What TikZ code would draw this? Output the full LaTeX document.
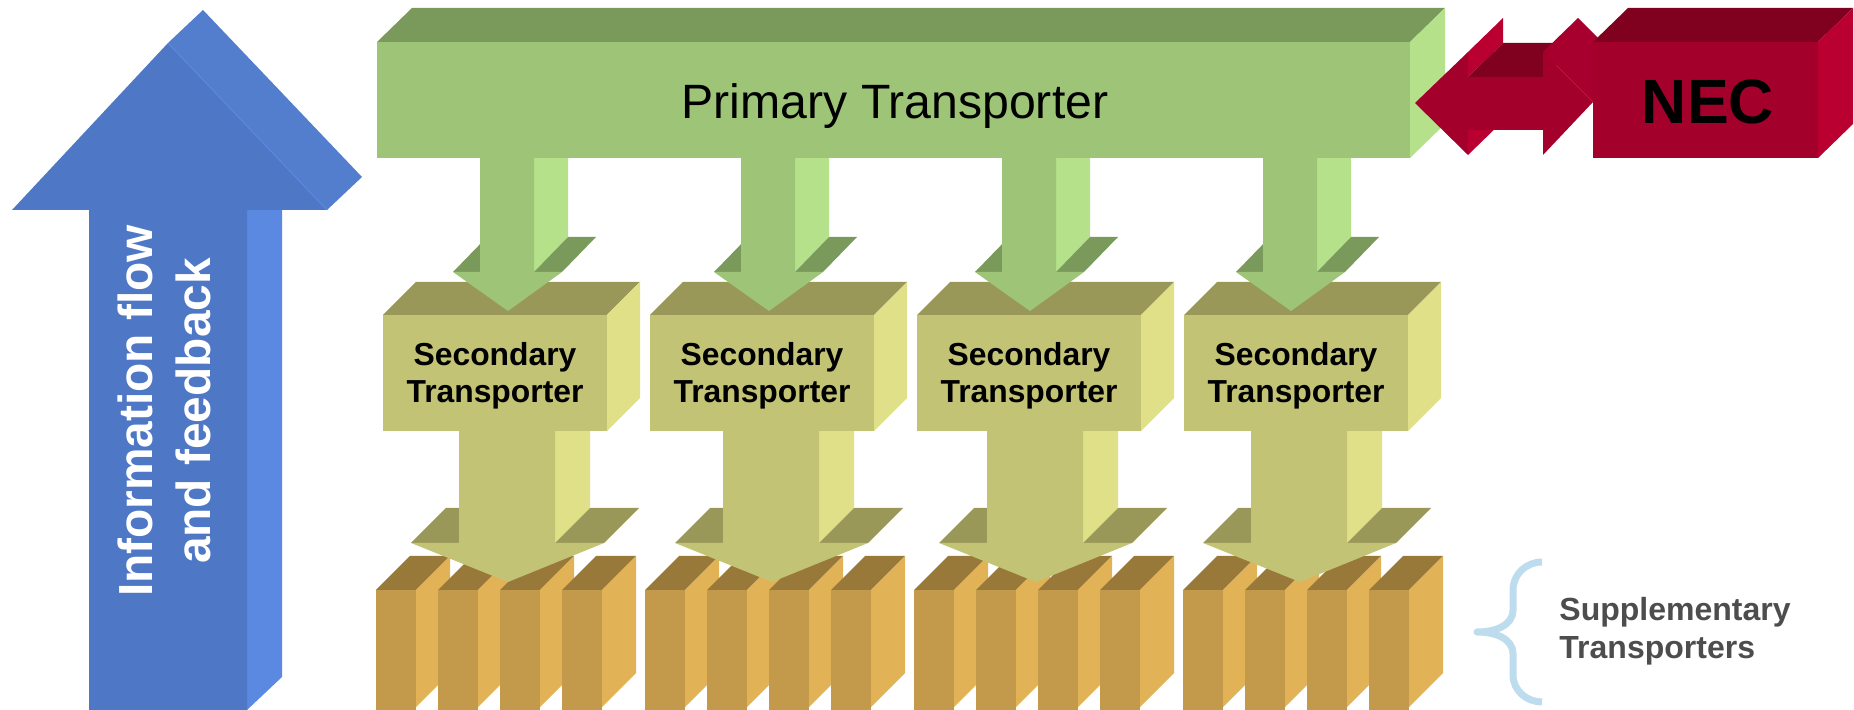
\documentclass[tikz,border=0pt]{standalone}
\usepackage{fontspec}
\setmainfont{Liberation Sans}
\definecolor{blueFront}{HTML}{4E78C5}
\definecolor{blueSlant}{HTML}{537DCD}
\definecolor{blueSide}{HTML}{5B89E1}
\definecolor{greenFront}{HTML}{9DC477}
\definecolor{greenSide}{HTML}{B4E18A}
\definecolor{greenTop}{HTML}{7A9A5C}
\definecolor{oliveFront}{HTML}{C3C375}
\definecolor{oliveSide}{HTML}{E0E088}
\definecolor{oliveTop}{HTML}{9A9858}
\definecolor{goldFront}{HTML}{C39A4B}
\definecolor{goldSide}{HTML}{E1B256}
\definecolor{goldTop}{HTML}{98793A}
\definecolor{redFront}{HTML}{A3002B}
\definecolor{redSlant}{HTML}{A8002E}
\definecolor{redSide}{HTML}{B90030}
\definecolor{redTop}{HTML}{80001F}
\definecolor{braceBlue}{HTML}{BDDDEF}
\definecolor{labelGray}{HTML}{4D4D4D}
\tikzset{
  sectext/.style={align=center, font=\fontsize{9.05}{10.5}\selectfont\bfseries},
  suptext/.style={align=left, anchor=west, text=labelGray, font=\fontsize{9.1}{10.8}\selectfont\bfseries},
  bracestroke/.style={draw=braceBlue, line width=0.07cm, line join=round}
}

\begin{document}
\begin{tikzpicture}[x=0.01cm,y=-0.01cm]
\useasboundingbox (0,0) rectangle (1854,710);

% Supplementary transporters (thin boxes)
\foreach \g in {0,...,3}{
  \foreach \k in {0,...,3}{
    \pgfmathsetmacro{\xl}{376+269*\g+62*\k}
    \pgfmathsetmacro{\xr}{\xl+40}
    \fill[goldTop] (\xl,590) -- ++(34,-34) -- ++(40,0) -- (\xr,590) -- cycle;
    \fill[goldSide] (\xr,590) -- ++(34,-34) -- ++(0,117) -- (\xr,707) -- cycle;
    \fill[goldFront] (\xl,590) rectangle (\xr,710);
  }
}

% Arrows from secondary to supplementary
\foreach \i in {0,...,3}{
  \pgfmathsetmacro{\c}{507+264*\i}
  \pgfmathsetmacro{\xl}{\c-48}
  \pgfmathsetmacro{\xr}{\c+48}
  \pgfmathsetmacro{\hl}{\c-96}
  \pgfmathsetmacro{\hr}{\c+97}
  \fill[oliveSide] (\xr,431) -- ++(35,-35) -- ++(0,112) -- (\xr,543) -- cycle;
  \fill[oliveTop] (\hl,543) -- ++(35,-35) -- (\xl+35,508) -- (\xl,543) -- cycle;
  \fill[oliveTop] (\xr,543) -- ++(35,-35) -- (\hr+35,508) -- (\hr,543) -- cycle;
  \fill[oliveFront] (\xl,431) -- (\xr,431) -- (\xr,543) -- (\hr,543)
    -- (\c+1,582) -- (\hl,543) -- (\xl,543) -- cycle;
}

% Secondary transporters
\foreach \i in {0,...,3}{
  \pgfmathsetmacro{\xl}{383+267*\i}
  \pgfmathsetmacro{\xr}{\xl+224}
  \fill[oliveTop] (\xl,315) -- ++(33,-33) -- (\xr+33,282) -- (\xr,315) -- cycle;
  \fill[oliveSide] (\xr,315) -- ++(33,-33) -- ++(0,116) -- (\xr,431) -- cycle;
  \fill[oliveFront] (\xl,315) rectangle (\xr,431);
  \node[sectext] (sec\i) at (\xl+112,376) {Secondary\\Transporter};
}

% Arrows from primary to secondary
\foreach \i in {0,...,3}{
  \pgfmathsetmacro{\c}{507+261*\i}
  \pgfmathsetmacro{\xl}{\c-27}
  \pgfmathsetmacro{\xr}{\c+27}
  \pgfmathsetmacro{\hl}{\c-54}
  \pgfmathsetmacro{\hr}{\c+55}
  \fill[greenSide] (\xr,158) -- ++(34,-35) -- ++(0,114) -- (\xr,272) -- cycle;
  \fill[greenTop] (\hl,272) -- ++(34,-35) -- (\xl+34,237) -- (\xl,272) -- cycle;
  \fill[greenTop] (\xr,272) -- ++(34,-35) -- (\hr+34,237) -- (\hr,272) -- cycle;
  \fill[greenFront] (\xl,158) -- (\xr,158) -- (\xr,272) -- (\hr,272)
    -- (\c+1,311) -- (\hl,272) -- (\xl,272) -- cycle;
}

% Primary transporter
\fill[greenTop] (377,42) -- (412,8) -- (1445,8) -- (1410,42) -- cycle;
\fill[greenSide] (1410,42) -- (1445,8) -- (1445,124) -- (1410,158) -- cycle;
\fill[greenFront] (377,42) rectangle (1410,158);
\node[font=\fontsize{13.7}{16}\selectfont] (primary) at (895,106) {Primary Transporter};

% Double arrow to NEC
\fill[redSide] (1468,52) -- (1503,18) -- (1503,43) -- (1468,77) -- cycle;
\fill[redSide] (1468,130) -- (1503,96) -- (1503,121) -- (1468,155) -- cycle;
\fill[redTop] (1468,77) -- (1503,43) -- (1578,43) -- (1543,77) -- cycle;
\fill[redSlant] (1543,52) -- (1578,18) -- (1628,68) -- (1593,102) -- cycle;
\fill[redFront] (1415,103) -- (1468,52) -- (1468,77) -- (1543,77) -- (1543,52)
  -- (1593,102) -- (1543,155) -- (1543,130) -- (1468,130) -- (1468,155) -- cycle;

% NEC box
\fill[redTop] (1593,42) -- (1628,8) -- (1853,8) -- (1818,42) -- cycle;
\fill[redSide] (1818,42) -- (1853,8) -- (1853,124) -- (1818,158) -- cycle;
\fill[redFront] (1593,42) rectangle (1818,158);
\node[font=\fontsize{17.8}{20}\selectfont\bfseries] (nec) at (1708,102) {NEC};

% Information flow arrow
\fill[blueSide] (247,210) -- (282,177) -- (282,677) -- (247,710) -- cycle;
\fill[blueSlant] (168,43) -- (203,10) -- (362,177) -- (327,210) -- cycle;
\fill[blueFront] (89,710) -- (89,210) -- (12,210) -- (168,43) -- (327,210)
  -- (247,210) -- (247,710) -- cycle;
\draw[blueSide, line width=0.01cm] (168,43) -- (327,210);
\node[rotate=90, align=center, text=white, font=\fontsize{13.6}{16.5}\selectfont\bfseries]
  (info) at (164,411) {Information flow\\and feedback};

% Brace and label
\draw[bracestroke] (1542,562) to[out=180,in=90] (1513,590) -- (1513,610)
  to[out=-90,in=0] (1477,632) to[out=0,in=90] (1513,654) -- (1513,675)
  to[out=-90,in=180] (1542,702);
\node[suptext] (supp) at (1547,631) {Supplementary\\Transporters};

\end{tikzpicture}
\end{document}
